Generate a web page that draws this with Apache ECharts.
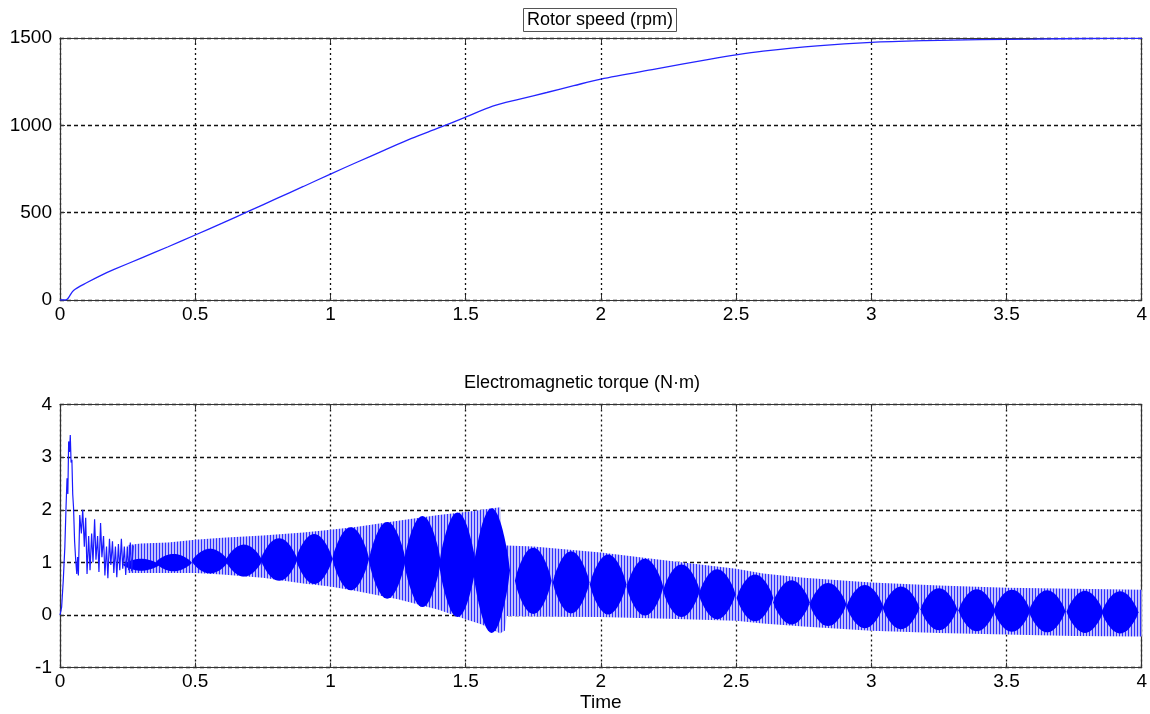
<!DOCTYPE html>
<html>
<head>
<meta charset="utf-8">
<script src="https://cdn.jsdelivr.net/npm/echarts@6/dist/echarts.min.js"></script>
<style>
  html, body { margin: 0; background: #fff; }
  #chart { width: 1150px; height: 714px; }
</style>
</head>
<body>
<div id="chart"></div>
<script>
// rotor speed (rpm)
const speedT = [0, 0.02, 0.03, 0.05, 0.1, 0.15, 0.2, 0.3, 0.4, 0.5, 0.6, 0.7, 0.8, 0.9, 1.0, 1.1, 1.2, 1.3, 1.4, 1.5, 1.6, 1.7, 1.8, 1.9, 2.0, 2.2, 2.4, 2.5, 2.6, 2.8, 3.0, 3.2, 3.4, 3.6, 3.8, 4.0];
const speedV = [0, 0, 10, 55, 100, 140, 175, 240, 305, 372, 440, 510, 580, 650, 721, 790, 858, 925, 985, 1047, 1110, 1150, 1188, 1227, 1265, 1322, 1378, 1404, 1425, 1455, 1475, 1485, 1491, 1494, 1497, 1498];

// start-up transient of the torque (N·m)
const torqueT = [0, 0.006, 0.012, 0.018, 0.022, 0.026, 0.029, 0.032, 0.035, 0.038, 0.041, 0.044, 0.047, 0.050, 0.054, 0.058, 0.062, 0.065,
  0.068, 0.073, 0.079, 0.084, 0.090, 0.095, 0.100, 0.106, 0.111, 0.117, 0.122, 0.128, 0.133, 0.139, 0.144, 0.150, 0.155, 0.161, 0.166,
  0.172, 0.177, 0.183, 0.188, 0.194, 0.199, 0.205, 0.210, 0.216, 0.221, 0.227, 0.232, 0.238, 0.243, 0.249, 0.254, 0.260, 0.265, 0.271];
const torqueV = [0, 0.15, 0.65, 1.3, 2.0, 2.6, 2.3, 3.3, 3.1, 3.42, 2.9, 2.95, 2.3, 2.05, 1.4, 1.05, 0.78, 1.1,
  0.75, 1.9, 1.55, 2.0, 1.3, 1.85, 0.78, 1.5, 0.85, 1.55, 1.0, 1.82, 1.05, 1.5, 0.82, 1.75, 1.1, 1.5, 0.75,
  1.3, 0.7, 1.45, 0.95, 1.4, 0.8, 1.3, 0.72, 1.35, 0.85, 1.45, 0.88, 1.3, 0.76, 1.3, 0.85, 1.38, 0.83, 1.32];

// envelope of the fast ripple
const bandT  = [0.25, 0.3, 0.4, 0.5, 0.6, 0.75, 0.9, 1.0, 1.1, 1.25, 1.4, 1.5, 1.56, 1.6, 1.628, 1.634, 1.645, 1.652, 1.75, 2.0, 2.25, 2.5, 2.6, 2.75, 3.0, 3.25, 3.5, 3.75, 4.0];
const bandUp = [1.33, 1.36, 1.38, 1.43, 1.47, 1.51, 1.57, 1.62, 1.68, 1.79, 1.9, 1.96, 2.0, 2.03, 2.05, 1.35, 1.33, 1.32, 1.3, 1.19, 1.03, 0.88, 0.79, 0.71, 0.62, 0.56, 0.52, 0.5, 0.48];
const bandLo = [0.8, 0.8, 0.8, 0.8, 0.77, 0.71, 0.6, 0.54, 0.45, 0.3, 0.1, -0.08, -0.18, -0.28, -0.35, -0.33, -0.3, -0.02, -0.03, -0.04, -0.07, -0.11, -0.16, -0.22, -0.3, -0.34, -0.37, -0.4, -0.41];

// dark beat lobes: centre time, top, bottom
const lobeT   = [0.30, 0.42, 0.555, 0.68, 0.81, 0.94, 1.075, 1.21, 1.34, 1.47, 1.596,
  1.75, 1.89, 2.027, 2.163, 2.298, 2.43, 2.57, 2.705, 2.84, 2.976, 3.11, 3.25, 3.39, 3.52, 3.65, 3.79, 3.92];
const lobeTop = [1.07, 1.16, 1.26, 1.34, 1.46, 1.54, 1.67, 1.77, 1.88, 1.95, 2.03,
  1.28, 1.21, 1.15, 1.07, 0.96, 0.87, 0.77, 0.66, 0.61, 0.57, 0.54, 0.51, 0.49, 0.48, 0.47, 0.46, 0.45];
const lobeBot = [0.84, 0.83, 0.79, 0.73, 0.65, 0.59, 0.47, 0.31, 0.15, -0.04, -0.34,
  0.02, 0.03, 0.01, -0.01, -0.04, -0.08, -0.12, -0.18, -0.21, -0.25, -0.27, -0.29, -0.31, -0.32, -0.33, -0.34, -0.35];
const lobeHalf = 0.068;

const xTicks = { min: 0, max: 4, interval: 0.5 };
const font = "'Liberation Sans', Arial, sans-serif";

// vertical hatch like the dense matlab strokes
const hatch = document.createElement("canvas");
hatch.width = 3;
hatch.height = 4;
const hctx = hatch.getContext("2d");
hctx.fillStyle = "#c0c0ff";
hctx.fillRect(0, 0, 3, 4);
hctx.fillStyle = "#2f2fff";
hctx.fillRect(0, 0, 1, 4);

const chart = echarts.init(document.getElementById("chart"), null, { renderer: "canvas" });

const lineCol = "#333";
const tick = { show: true, inside: true, length: 5, lineStyle: { color: lineCol } };
const axisLine = { show: true, onZero: false, lineStyle: { color: lineCol, width: 1.2 } };
const label = { color: "#000", fontSize: 19, fontFamily: font, formatter: (v) => String(v) };

function xAx(grid, extra) {
  return Object.assign({
    type: "value", gridIndex: grid, position: "bottom",
    min: xTicks.min, max: xTicks.max, interval: xTicks.interval,
    axisLine, axisTick: tick,
    axisLabel: Object.assign({ margin: 5 }, label),
    splitLine: { show: true, lineStyle: { color: "#111", type: [2, 3], width: 1.3 } },
  }, extra);
}
function xTop(grid) {
  return {
    type: "value", gridIndex: grid, position: "top",
    min: xTicks.min, max: xTicks.max, interval: xTicks.interval,
    axisLine, axisTick: tick, axisLabel: { show: false }, splitLine: { show: false },
  };
}
function yAx(grid, min, max, interval) {
  return {
    type: "value", gridIndex: grid, position: "left", min, max, interval,
    axisLine, axisTick: tick,
    axisLabel: Object.assign({ margin: 8 }, label),
    splitLine: { show: true, lineStyle: { color: "#111", type: [4, 3], width: 1.3 } },
  };
}
function yRight(grid, min, max, interval) {
  return {
    type: "value", gridIndex: grid, position: "right", min, max, interval,
    axisLine, axisTick: tick, axisLabel: { show: false }, splitLine: { show: false },
  };
}

const option = {
  animation: false,
  backgroundColor: "#fff",
  title: [
    {
      text: "Rotor speed (rpm)", left: 523, top: 8,
      padding: [3, 4], borderWidth: 1, borderColor: "#555",
      textStyle: { fontSize: 18, fontWeight: "normal", color: "#000", fontFamily: font },
    },
    {
      text: "Electromagnetic torque (N·m)", left: 464, top: 374, padding: 0,
      textStyle: { fontSize: 18, fontWeight: "normal", color: "#000", fontFamily: font },
    },
  ],
  grid: [
    { left: 60, right: 8, top: 38, height: 262 },
    { left: 60, right: 8, top: 404.6, height: 263 },
  ],
  xAxis: [
    xAx(0),
    xAx(1, { name: "Time", nameLocation: "middle", nameGap: 26,
      nameTextStyle: { color: "#000", fontSize: 19, fontFamily: font } }),
    xTop(0),
    xTop(1),
  ],
  yAxis: [
    yAx(0, 0, 1500, 500),
    yAx(1, -1, 4, 1),
    yRight(0, 0, 1500, 500),
    yRight(1, -1, 4, 1),
  ],
  series: [
    {
      name: "speed", type: "line", xAxisIndex: 0, yAxisIndex: 0,
      data: speedT.map((t, i) => [t, speedV[i]]),
      smooth: 0.3, showSymbol: false,
      lineStyle: { color: "#2424ff", width: 1.3 },
    },
    {
      name: "ripple band", type: "custom", xAxisIndex: 1, yAxisIndex: 1, clip: true,
      data: bandT.map((t, i) => [t, bandUp[i], bandLo[i]]),
      renderItem: (params, api) => {
        if (params.dataIndex !== 0) return null;
        const pts = [];
        bandT.forEach((t, i) => pts.push(api.coord([t, bandUp[i]])));
        for (let i = bandT.length - 1; i >= 0; i--) pts.push(api.coord([bandT[i], bandLo[i]]));
        return { type: "polygon", shape: { points: pts }, style: { fill: { image: hatch, repeat: "repeat" } } };
      },
    },
    {
      name: "lobes", type: "custom", xAxisIndex: 1, yAxisIndex: 1, clip: true,
      data: lobeT.map((t, i) => [t, lobeTop[i], lobeBot[i]]),
      renderItem: (params, api) => {
        const c = api.value(0), top = api.value(1), bot = api.value(2);
        const mid = (top + bot) / 2;
        const bulge = (u) => Math.pow(Math.cos(u * Math.PI / 2), 0.8);
        const pts = [];
        for (let k = 0; k <= 20; k++) {
          const u = -1 + k / 10;
          pts.push(api.coord([c + u * lobeHalf, mid + (top - mid) * bulge(u)]));
        }
        for (let k = 19; k >= 1; k--) {
          const u = -1 + k / 10;
          pts.push(api.coord([c + u * lobeHalf, mid - (mid - bot) * bulge(u)]));
        }
        return { type: "polygon", shape: { points: pts }, style: { fill: "#0000ff" } };
      },
    },
    {
      name: "torque", type: "line", xAxisIndex: 1, yAxisIndex: 1,
      data: torqueT.map((t, i) => [t, torqueV[i]]),
      showSymbol: false,
      lineStyle: { color: "#1a1aff", width: 1.2 },
    },
  ],
};

chart.setOption(option);
</script>
</body>
</html>
